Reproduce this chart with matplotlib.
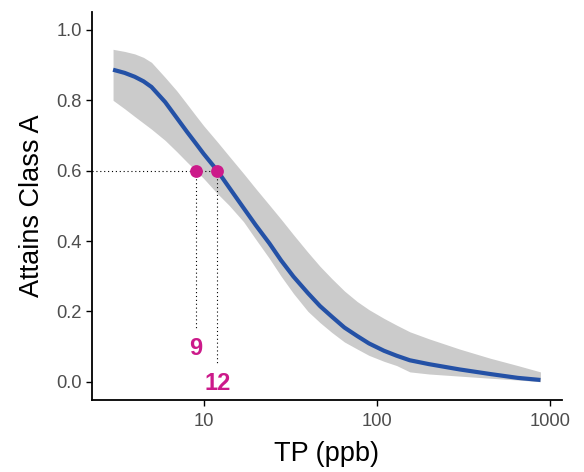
import matplotlib
matplotlib.use("Agg")
import matplotlib.pyplot as plt
import numpy as np

plt.rcParams['font.family'] = ['Liberation Sans', 'DejaVu Sans']

# Data
tp = [3, 3.5, 4, 4.5, 5, 6, 7, 8, 9, 10, 12, 14, 17, 20, 24, 28, 33, 40, 47, 55, 65,
      77, 90, 110, 130, 155, 200, 300, 450, 650, 880]
fit = [0.887, 0.878, 0.867, 0.854, 0.838, 0.795, 0.750, 0.711, 0.678, 0.648, 0.600, 0.553, 0.494,
       0.445, 0.393, 0.345, 0.299, 0.252, 0.215, 0.185, 0.154, 0.130, 0.109, 0.088, 0.074,
       0.061, 0.050, 0.035, 0.022, 0.011, 0.005]
upper = [0.945, 0.939, 0.932, 0.922, 0.908, 0.865, 0.827, 0.790, 0.757, 0.728, 0.682, 0.642, 0.592,
         0.549, 0.502, 0.462, 0.418, 0.368, 0.328, 0.293, 0.258, 0.228, 0.205, 0.180, 0.161,
         0.142, 0.122, 0.093, 0.067, 0.046, 0.028]
lower = [0.800, 0.776, 0.754, 0.735, 0.718, 0.686, 0.654, 0.625, 0.600, 0.578, 0.535, 0.502, 0.455,
         0.405, 0.350, 0.300, 0.251, 0.200, 0.168, 0.140, 0.113, 0.093, 0.075, 0.058, 0.046,
         0.028, 0.022, 0.016, 0.010, 0.005, 0.000]

target = 0.6
thresholds = [9, 12]
threshold_labels = ["9", "12"]
label_y = [0.094, -0.004]
vline_bottom = [0.152, 0.047]

x_ticks = [10, 100, 1000]
x_ticklabels = ["10", "100", "1000"]
y_ticks = [0.0, 0.2, 0.4, 0.6, 0.8, 1.0]

magenta = '#CC1A8A'
blue = '#2451A6'
grey = '#CBCBCB'

fig = plt.figure(figsize=(5.84, 4.72), dpi=100)
ax = fig.add_axes([0.157, 0.1525, 0.805, 0.822])

ax.fill_between(tp, lower, upper, color=grey, lw=0, zorder=1)
ax.plot(tp, fit, color=blue, lw=3.0, zorder=3, solid_capstyle='butt', solid_joinstyle='round')

ax.set_xscale('log')
xmin, xmax = np.log10(tp[0]), np.log10(tp[-1])
pad = 0.05 * (xmax - xmin)
ax.set_xlim(10 ** (xmin - pad), 10 ** (xmax + pad))
ax.set_ylim(-0.052, 1.051)

# dotted guide lines
ax.plot([ax.get_xlim()[0], thresholds[1]], [target, target], color='black', lw=0.8,
        linestyle=(0, (1, 2.5)), zorder=2)
for xv, yb in zip(thresholds, vline_bottom):
    ax.plot([xv, xv], [target, yb], color='black', lw=0.8, linestyle=(0, (1, 2.5)), zorder=2)

ax.scatter(thresholds, [target] * len(thresholds), s=85, color=magenta, zorder=4, lw=0)

for xv, yv, txt in zip(thresholds, label_y, threshold_labels):
    ax.text(xv, yv, txt, color=magenta, fontsize=17, fontweight='bold',
            ha='center', va='center', zorder=5)

ax.set_xticks(x_ticks)
ax.set_xticklabels(x_ticklabels)
ax.xaxis.set_minor_locator(matplotlib.ticker.NullLocator())
ax.set_yticks(y_ticks)
ax.set_yticklabels([f"{v:.1f}" for v in y_ticks])

for s in ['top', 'right']:
    ax.spines[s].set_visible(False)
for s in ['left', 'bottom']:
    ax.spines[s].set_linewidth(1.3)
    ax.spines[s].set_color('black')

ax.tick_params(axis='both', which='major', length=4, width=1.0, color='black',
               labelsize=13.2, labelcolor='#4D4D4D', pad=3)
ax.tick_params(axis='x', pad=5)

ax.set_xlabel("TP (ppb)", fontsize=19.5, color='black', labelpad=8)
ax.set_ylabel("Attains Class A", fontsize=19.5, color='black', labelpad=8)

fig.savefig("out.png", dpi=100)
